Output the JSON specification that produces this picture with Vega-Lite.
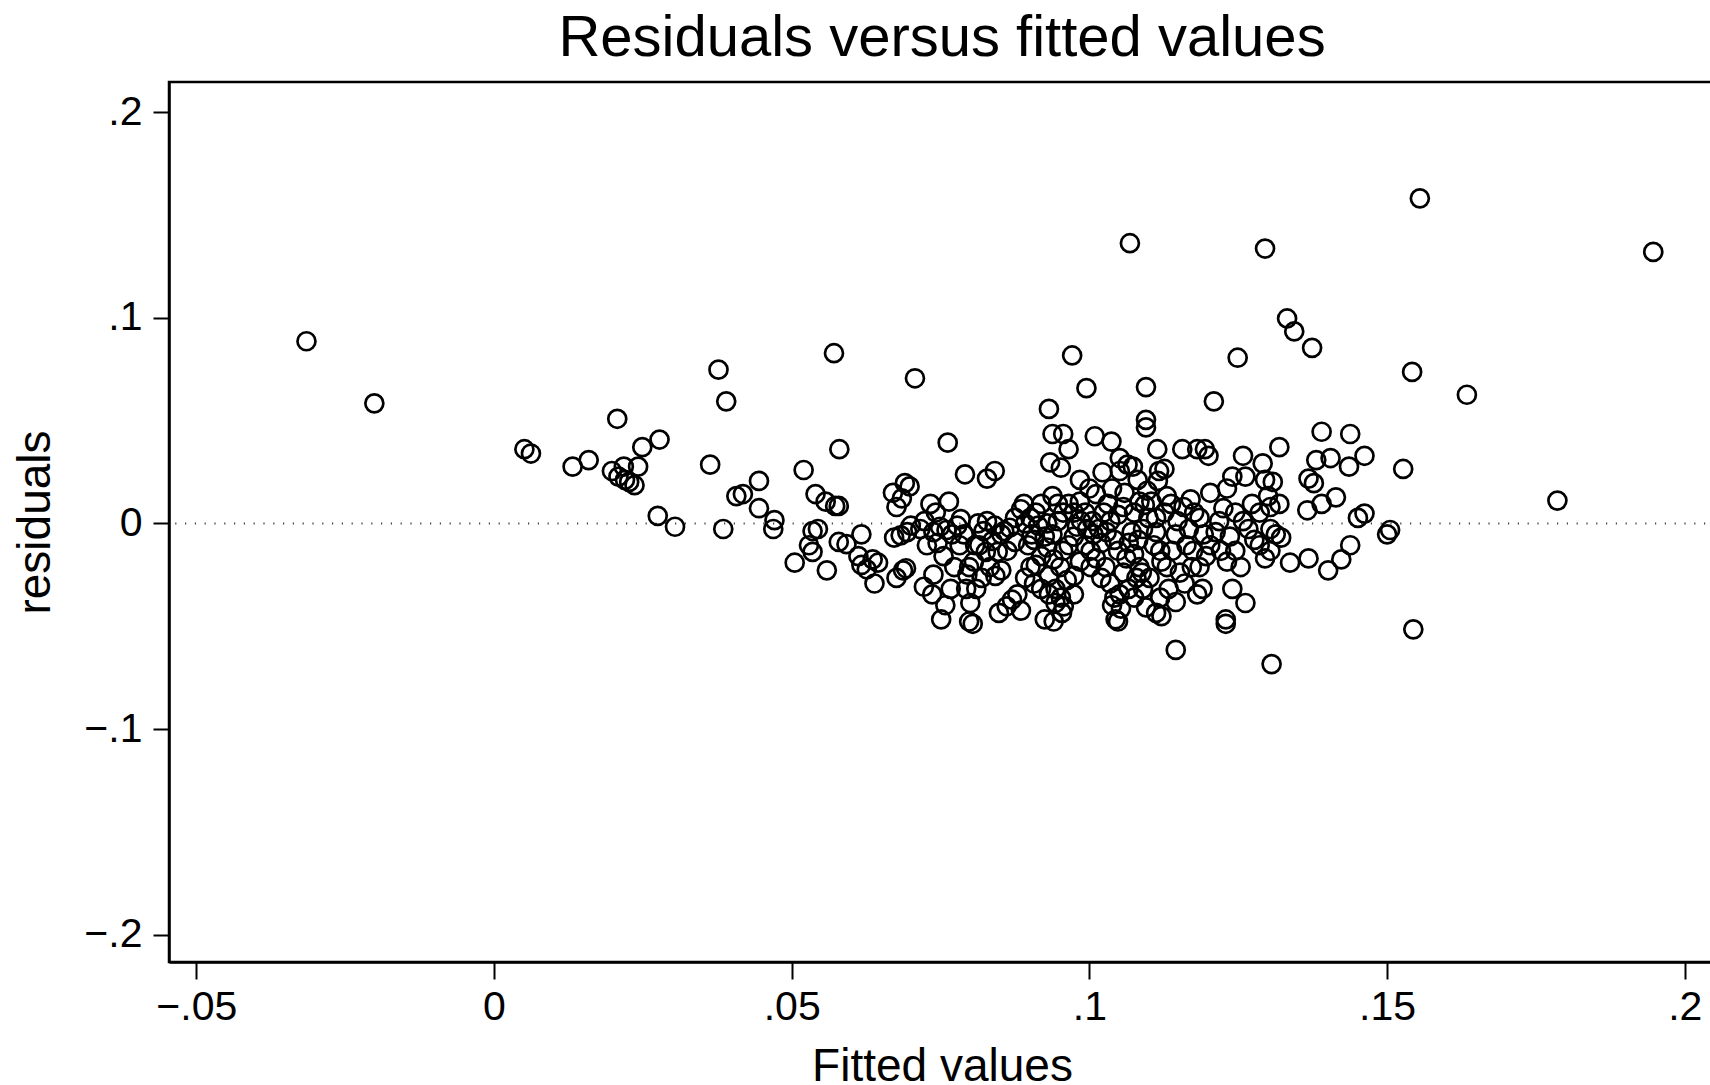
{
"$schema": "https://vega.github.io/schema/vega-lite/v6.json",
"width": 1546,
"height": 880,
"autosize": {"type": "none"},
"padding": {"left": 169, "top": 82, "right": -5, "bottom": 123},
"background": "white",
"title": {"text": "Residuals versus fitted values", "font": "Liberation Sans", "fontSize": 58, "fontWeight": "normal", "color": "black", "anchor": "middle", "frame": "group", "orient": "top", "offset": 14},
"config": {
  "view": {"stroke": "black", "strokeWidth": 2.5},
  "axis": {"grid": false, "domainColor": "black", "domainWidth": 2.5, "tickColor": "black", "tickWidth": 2, "labelFont": "Liberation Sans", "labelFontSize": 41, "labelColor": "black", "labelFlush": false, "labelOverlap": false, "titleFont": "Liberation Sans", "titleFontSize": 46, "titleFontWeight": "normal", "titleColor": "black"}
},
"layer": [
  {
    "data": {"values": [{"ref": 0}]},
    "mark": {"type": "rule", "color": "#444444", "strokeWidth": 2, "strokeDash": [1.2, 8.6]},
    "encoding": {"y": {"field": "ref", "type": "quantitative"}}
  },
  {
    "data": {"values": [
{"fitted":-0.0315,"resid":0.0886},{"fitted":-0.0201,"resid":0.0584},{"fitted":0.0051,"resid":0.0361},{"fitted":0.0062,"resid":0.034},
{"fitted":0.0132,"resid":0.0276},{"fitted":0.0159,"resid":0.0308},{"fitted":0.0207,"resid":0.0509},{"fitted":0.0198,"resid":0.0255},
{"fitted":0.0209,"resid":0.0228},{"fitted":0.0218,"resid":0.0276},{"fitted":0.022,"resid":0.0212},{"fitted":0.0227,"resid":0.0202},
{"fitted":0.0236,"resid":0.0186},{"fitted":0.0242,"resid":0.0276},{"fitted":0.0249,"resid":0.0371},{"fitted":0.0278,"resid":0.0408},
{"fitted":0.0275,"resid":0.0037},{"fitted":0.0304,"resid":-0.0016},{"fitted":0.0363,"resid":0.0286},{"fitted":0.0377,"resid":0.0748},
{"fitted":0.039,"resid":0.0594},{"fitted":0.0385,"resid":-0.0027},{"fitted":0.0407,"resid":0.0133},{"fitted":0.0418,"resid":0.0143},
{"fitted":0.0445,"resid":0.0207},{"fitted":0.0445,"resid":0.0074},{"fitted":0.0471,"resid":0.0016},{"fitted":0.0469,"resid":-0.0027},
{"fitted":0.052,"resid":0.026},{"fitted":0.0505,"resid":-0.0191},{"fitted":0.054,"resid":0.0143},{"fitted":0.0557,"resid":0.0106},
{"fitted":0.0573,"resid":0.0085},{"fitted":0.0579,"resid":0.0085},{"fitted":0.0571,"resid":0.0828},{"fitted":0.058,"resid":0.0361},
{"fitted":0.0535,"resid":-0.0037},{"fitted":0.0529,"resid":-0.0106},{"fitted":0.0544,"resid":-0.0027},{"fitted":0.0535,"resid":-0.0138},
{"fitted":0.0559,"resid":-0.0228},{"fitted":0.0579,"resid":-0.009},{"fitted":0.0592,"resid":-0.0101},{"fitted":0.0617,"resid":-0.0053},
{"fitted":0.0612,"resid":-0.0159},{"fitted":0.0617,"resid":-0.0202},{"fitted":0.0626,"resid":-0.0223},{"fitted":0.0636,"resid":-0.0175},
{"fitted":0.0645,"resid":-0.0191},{"fitted":0.0639,"resid":-0.0292},{"fitted":0.067,"resid":0.0149},{"fitted":0.0676,"resid":0.008},
{"fitted":0.0685,"resid":0.0122},{"fitted":0.069,"resid":0.0196},{"fitted":0.0698,"resid":0.018},{"fitted":0.0707,"resid":0.0706},
{"fitted":0.0672,"resid":-0.0069},{"fitted":0.0683,"resid":-0.0058},{"fitted":0.0694,"resid":-0.0042},{"fitted":0.07,"resid":-0.0011},
{"fitted":0.0676,"resid":-0.0265},{"fitted":0.0687,"resid":-0.0228},{"fitted":0.0692,"resid":-0.0218},{"fitted":0.0722,"resid":-0.0308},
{"fitted":0.0736,"resid":-0.0345},{"fitted":0.0751,"resid":-0.0467},{"fitted":0.0758,"resid":-0.0398},{"fitted":0.0762,"resid":0.0393},
{"fitted":0.0764,"resid":0.0106},{"fitted":0.0733,"resid":0.0095},{"fitted":0.0742,"resid":0.0053},{"fitted":0.0723,"resid":0.0011},
{"fitted":0.0716,"resid":-0.0027},{"fitted":0.0738,"resid":-0.0042},{"fitted":0.0749,"resid":-0.0016},{"fitted":0.076,"resid":-0.0032},
{"fitted":0.0769,"resid":-0.0053},{"fitted":0.0778,"resid":-0.0011},{"fitted":0.0784,"resid":0.0021},{"fitted":0.0789,"resid":-0.0053},
{"fitted":0.0738,"resid":-0.0249},{"fitted":0.0755,"resid":-0.0159},{"fitted":0.0767,"resid":-0.0318},{"fitted":0.0791,"resid":0.0239},
{"fitted":0.0798,"resid":-0.0212},{"fitted":0.0795,"resid":-0.0249},{"fitted":0.0793,"resid":-0.0318},{"fitted":0.08,"resid":-0.0387},
{"fitted":0.0798,"resid":-0.0477},{"fitted":0.0804,"resid":-0.0488},{"fitted":0.0808,"resid":-0.0106},{"fitted":0.0813,"resid":0.0},
{"fitted":0.0822,"resid":-0.0037},{"fitted":0.0828,"resid":0.0218},{"fitted":0.0841,"resid":0.0255},{"fitted":0.0826,"resid":-0.0138},
{"fitted":0.0837,"resid":-0.0085},{"fitted":0.0846,"resid":-0.0138},{"fitted":0.0833,"resid":-0.0212},{"fitted":0.0842,"resid":-0.0255},
{"fitted":0.0852,"resid":-0.0228},{"fitted":0.0848,"resid":-0.0435},{"fitted":0.0861,"resid":-0.0403},{"fitted":0.087,"resid":-0.0371},
{"fitted":0.0879,"resid":-0.0345},{"fitted":0.0885,"resid":-0.0424},{"fitted":0.0892,"resid":-0.0265},{"fitted":0.0857,"resid":-0.0037},
{"fitted":0.0866,"resid":-0.0021},{"fitted":0.0875,"resid":0.0027},{"fitted":0.0885,"resid":0.0069},{"fitted":0.089,"resid":0.0095},
{"fitted":0.0897,"resid":-0.0106},{"fitted":0.0907,"resid":-0.008},{"fitted":0.091,"resid":0.0053},{"fitted":0.0919,"resid":0.0095},
{"fitted":0.091,"resid":-0.0202},{"fitted":0.0919,"resid":-0.0159},{"fitted":0.0929,"resid":-0.0117},{"fitted":0.0932,"resid":0.0557},
{"fitted":0.0938,"resid":0.0435},{"fitted":0.0956,"resid":0.0435},{"fitted":0.0934,"resid":0.0297},{"fitted":0.0952,"resid":0.0271},
{"fitted":0.0965,"resid":0.0361},{"fitted":0.0971,"resid":0.0817},{"fitted":0.0995,"resid":0.0658},{"fitted":0.0984,"resid":0.0212},
{"fitted":0.1,"resid":0.017},{"fitted":0.1009,"resid":0.0424},{"fitted":0.1037,"resid":0.0398},{"fitted":0.1011,"resid":0.0143},
{"fitted":0.1022,"resid":0.0249},{"fitted":0.0938,"resid":0.0133},{"fitted":0.0947,"resid":0.0095},{"fitted":0.0929,"resid":0.0},
{"fitted":0.0938,"resid":-0.0053},{"fitted":0.0947,"resid":0.0011},{"fitted":0.0956,"resid":0.0053},{"fitted":0.0965,"resid":0.0095},
{"fitted":0.0974,"resid":0.0053},{"fitted":0.0984,"resid":0.0106},{"fitted":0.0993,"resid":0.0053},{"fitted":0.0979,"resid":-0.0016},
{"fitted":0.0986,"resid":0.0011},{"fitted":0.0996,"resid":-0.0027},{"fitted":0.1005,"resid":0.0011},{"fitted":0.094,"resid":-0.0175},
{"fitted":0.0951,"resid":-0.0212},{"fitted":0.0932,"resid":-0.0255},{"fitted":0.0943,"resid":-0.0318},{"fitted":0.0932,"resid":-0.0345},
{"fitted":0.0943,"resid":-0.0387},{"fitted":0.0952,"resid":-0.0361},{"fitted":0.0957,"resid":-0.0403},{"fitted":0.0954,"resid":-0.0435},
{"fitted":0.0925,"resid":-0.0467},{"fitted":0.094,"resid":-0.0477},{"fitted":0.0974,"resid":-0.0255},{"fitted":0.0974,"resid":-0.0345},
{"fitted":0.1002,"resid":-0.0133},{"fitted":0.1002,"resid":-0.0212},{"fitted":0.1011,"resid":-0.017},{"fitted":0.102,"resid":-0.0095},
{"fitted":0.1029,"resid":-0.0042},{"fitted":0.1035,"resid":0.0011},{"fitted":0.1042,"resid":-0.008},{"fitted":0.1048,"resid":-0.0133},
{"fitted":0.1027,"resid":-0.0212},{"fitted":0.102,"resid":-0.0265},{"fitted":0.1035,"resid":-0.0292},{"fitted":0.1042,"resid":-0.0361},
{"fitted":0.1038,"resid":-0.0398},{"fitted":0.1044,"resid":-0.0467},{"fitted":0.1048,"resid":-0.0477},{"fitted":0.1053,"resid":-0.0414},
{"fitted":0.1051,"resid":-0.0345},{"fitted":0.1057,"resid":-0.0239},{"fitted":0.1062,"resid":-0.017},{"fitted":0.1066,"resid":-0.0095},
{"fitted":0.1071,"resid":-0.0042},{"fitted":0.1075,"resid":0.0053},{"fitted":0.1084,"resid":0.0106},{"fitted":0.1057,"resid":0.008},
{"fitted":0.1048,"resid":0.0042},{"fitted":0.1059,"resid":0.0149},{"fitted":0.1051,"resid":0.0255},{"fitted":0.1064,"resid":0.0286},
{"fitted":0.1051,"resid":0.0318},{"fitted":0.1073,"resid":0.0276},{"fitted":0.1081,"resid":0.0212},{"fitted":0.1068,"resid":0.1363},
{"fitted":0.1095,"resid":0.0663},{"fitted":0.1095,"resid":0.0504},{"fitted":0.1095,"resid":0.0467},{"fitted":0.1093,"resid":0.009},
{"fitted":0.1099,"resid":0.0027},{"fitted":0.109,"resid":-0.0027},{"fitted":0.1082,"resid":-0.008},{"fitted":0.1075,"resid":-0.0149},
{"fitted":0.1084,"resid":-0.0212},{"fitted":0.1079,"resid":-0.0265},{"fitted":0.1088,"resid":-0.0239},{"fitted":0.1066,"resid":-0.0318},
{"fitted":0.1075,"resid":-0.0361},{"fitted":0.1095,"resid":-0.0408},{"fitted":0.1108,"resid":-0.0106},{"fitted":0.1112,"resid":-0.0042},
{"fitted":0.1115,"resid":0.0207},{"fitted":0.1117,"resid":0.0255},{"fitted":0.1126,"resid":0.0265},{"fitted":0.1114,"resid":0.0361},
{"fitted":0.1126,"resid":0.0053},{"fitted":0.1121,"resid":-0.0186},{"fitted":0.1112,"resid":-0.0435},{"fitted":0.1121,"resid":-0.0451},
{"fitted":0.1119,"resid":-0.0361},{"fitted":0.1133,"resid":-0.0318},{"fitted":0.1145,"resid":-0.0615},{"fitted":0.1139,"resid":-0.0133},
{"fitted":0.1145,"resid":-0.0053},{"fitted":0.1148,"resid":0.0011},{"fitted":0.1158,"resid":0.008},{"fitted":0.1156,"resid":0.0361},
{"fitted":0.1152,"resid":-0.0239},{"fitted":0.1145,"resid":-0.0382},{"fitted":0.1163,"resid":-0.0106},{"fitted":0.1167,"resid":-0.0027},
{"fitted":0.117,"resid":0.0117},{"fitted":0.1176,"resid":0.0053},{"fitted":0.1181,"resid":0.0361},{"fitted":0.1194,"resid":0.0361},
{"fitted":0.12,"resid":0.0329},{"fitted":0.1203,"resid":0.0149},{"fitted":0.1181,"resid":-0.0345},{"fitted":0.119,"resid":-0.0318},
{"fitted":0.1185,"resid":-0.0212},{"fitted":0.1196,"resid":-0.0159},{"fitted":0.1203,"resid":-0.0106},{"fitted":0.1209,"resid":0.0594},
{"fitted":0.1212,"resid":-0.0042},{"fitted":0.1218,"resid":0.0011},{"fitted":0.1225,"resid":0.0074},{"fitted":0.1231,"resid":0.017},
{"fitted":0.1221,"resid":-0.0133},{"fitted":0.1229,"resid":-0.0467},{"fitted":0.1229,"resid":-0.0488},{"fitted":0.124,"resid":-0.0318},
{"fitted":0.124,"resid":0.0228},{"fitted":0.1249,"resid":0.0806},{"fitted":0.1258,"resid":0.0329},{"fitted":0.1262,"resid":0.0228},
{"fitted":0.1245,"resid":0.0053},{"fitted":0.1258,"resid":0.0011},{"fitted":0.1267,"resid":-0.0027},{"fitted":0.1245,"resid":-0.0133},
{"fitted":0.1254,"resid":-0.0212},{"fitted":0.1262,"resid":-0.0387},{"fitted":0.1291,"resid":0.0292},{"fitted":0.1295,"resid":0.1337},
{"fitted":0.1295,"resid":0.0212},{"fitted":0.13,"resid":0.0133},{"fitted":0.1304,"resid":0.008},{"fitted":0.1308,"resid":0.0202},
{"fitted":0.1319,"resid":0.0371},{"fitted":0.1319,"resid":0.0095},{"fitted":0.1304,"resid":-0.0027},{"fitted":0.1313,"resid":-0.0053},
{"fitted":0.1322,"resid":-0.0069},{"fitted":0.1304,"resid":-0.0133},{"fitted":0.1295,"resid":-0.017},{"fitted":0.1286,"resid":-0.0106},
{"fitted":0.1306,"resid":-0.0684},{"fitted":0.1332,"resid":0.0997},{"fitted":0.1344,"resid":0.0934},{"fitted":0.1374,"resid":0.0854},
{"fitted":0.1337,"resid":-0.0191},{"fitted":0.1368,"resid":-0.017},{"fitted":0.1366,"resid":0.0064},{"fitted":0.1368,"resid":0.0218},
{"fitted":0.1377,"resid":0.0196},{"fitted":0.1381,"resid":0.0308},{"fitted":0.139,"resid":0.0446},{"fitted":0.139,"resid":0.0095},
{"fitted":0.1401,"resid":-0.0228},{"fitted":0.1405,"resid":0.0318},{"fitted":0.1414,"resid":0.0127},{"fitted":0.1423,"resid":-0.0175},
{"fitted":0.1438,"resid":0.0435},{"fitted":0.1436,"resid":0.0276},{"fitted":0.1438,"resid":-0.0106},{"fitted":0.1451,"resid":0.0027},
{"fitted":0.1462,"resid":0.0048},{"fitted":0.1462,"resid":0.0329},{"fitted":0.15,"resid":-0.0053},{"fitted":0.1505,"resid":-0.0032},
{"fitted":0.1527,"resid":0.0265},{"fitted":0.1542,"resid":0.0737},{"fitted":0.1555,"resid":0.1581},{"fitted":0.1544,"resid":-0.0515},
{"fitted":0.1634,"resid":0.0626},{"fitted":0.1786,"resid":0.0111},{"fitted":0.1947,"resid":0.1321},
{"fitted":0.1007,"resid":-0.0053},{"fitted":0.1016,"resid":-0.0027},{"fitted":0.1024,"resid":0.0053},{"fitted":0.1031,"resid":0.0095},
{"fitted":0.1038,"resid":0.017},{"fitted":0.1097,"resid":0.0159},{"fitted":0.1104,"resid":0.0106},{"fitted":0.113,"resid":0.0133},
{"fitted":0.1137,"resid":0.0095},{"fitted":0.1185,"resid":0.0027},{"fitted":0.1192,"resid":-0.0053},{"fitted":0.1172,"resid":-0.0212},
{"fitted":0.116,"resid":-0.0292},{"fitted":0.1174,"resid":-0.0133},{"fitted":0.1236,"resid":-0.0064},{"fitted":0.1231,"resid":-0.0186},
{"fitted":0.1277,"resid":-0.008},{"fitted":0.1273,"resid":0.0095},{"fitted":0.1286,"resid":0.0053},{"fitted":0.1112,"resid":0.0027},
{"fitted":0.1119,"resid":-0.0133},{"fitted":0.113,"resid":-0.0212},{"fitted":0.1101,"resid":-0.0265},{"fitted":0.109,"resid":-0.0318},
{"fitted":0.0892,"resid":0.0},{"fitted":0.0901,"resid":0.0027},{"fitted":0.0903,"resid":-0.0053},{"fitted":0.0914,"resid":-0.0011},
{"fitted":0.0925,"resid":-0.0064},{"fitted":0.0875,"resid":-0.009},{"fitted":0.0862,"resid":-0.0133},{"fitted":0.0852,"resid":-0.0053},
{"fitted":0.0841,"resid":-0.0011},{"fitted":0.0828,"resid":0.0011},{"fitted":0.0815,"resid":-0.0106},{"fitted":0.0806,"resid":-0.0186},
{"fitted":0.0782,"resid":-0.0106},{"fitted":0.0773,"resid":-0.0212},{"fitted":0.0745,"resid":-0.0095},{"fitted":0.0727,"resid":-0.0106},
{"fitted":0.081,"resid":-0.0318},{"fitted":0.0819,"resid":-0.0265},{"fitted":0.0901,"resid":-0.0212},{"fitted":0.0907,"resid":-0.0292},
{"fitted":0.0919,"resid":-0.0318},{"fitted":0.0962,"resid":-0.0276},{"fitted":0.0984,"resid":-0.0186},{"fitted":0.0993,"resid":-0.0106},
{"fitted":0.0965,"resid":-0.0106},{"fitted":0.0956,"resid":-0.0133},{"fitted":0.0974,"resid":-0.0064}
    ]},
    "mark": {"type": "point", "shape": "circle", "filled": false, "stroke": "black", "strokeWidth": 2.7, "size": 324, "opacity": 1},
    "encoding": {
      "x": {"field": "fitted", "type": "quantitative",
        "scale": {"domain": [-0.05459, 0.20507], "nice": false, "zero": false},
        "axis": {"title": "Fitted values", "values": [-0.05, 0, 0.05, 0.1, 0.15, 0.2],
          "labelExpr": "datum.value == 0 ? '0' : replace(format(datum.value, '.2~f'), '0.', '.')",
          "tickSize": 17, "labelBaseline": "alphabetic", "labelAlign": "center", "labelPadding": 40,
          "titleBaseline": "alphabetic", "titleY": 118, "titleAnchor": "middle"}},
      "y": {"field": "resid", "type": "quantitative",
        "scale": {"domain": [-0.2133, 0.2147], "nice": false, "zero": false},
        "axis": {"title": "residuals", "values": [-0.2, -0.1, 0, 0.1, 0.2],
          "labelExpr": "datum.value == 0 ? '0' : replace(format(datum.value, '.2~f'), '0.', '.')",
          "tickSize": 16, "labelAngle": 0, "labelAlign": "right", "labelBaseline": "middle", "labelPadding": 11,
          "titleAngle": -90, "titleBaseline": "alphabetic", "titleAlign": "center", "titleX": -120, "titleY": 440}}
    }
  }
]
}
